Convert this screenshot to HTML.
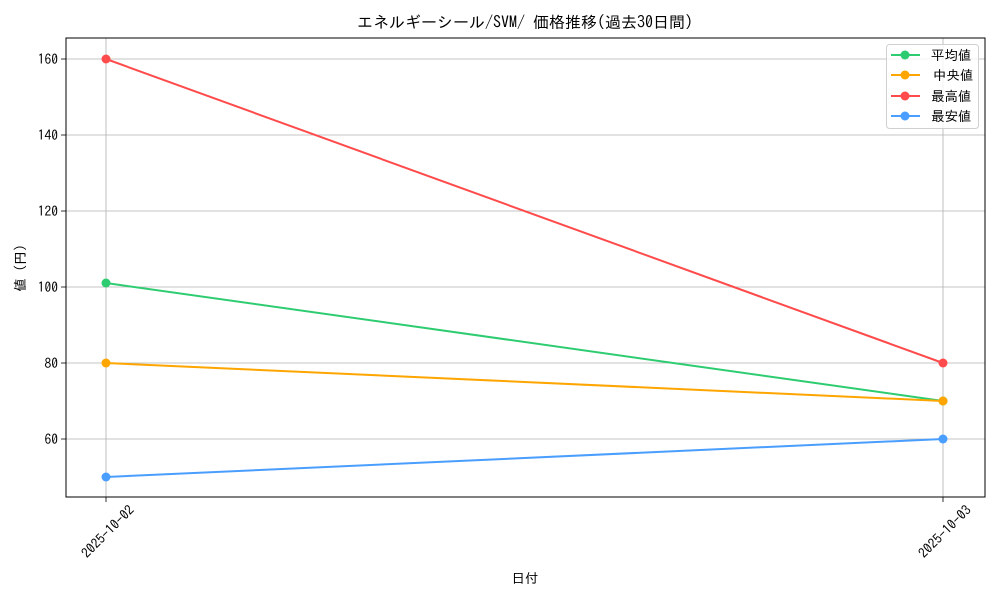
<!DOCTYPE html>
<html><head><meta charset="utf-8"><style>body{margin:0;background:#fff}svg{display:block}text{font-family:"IPAGothic","Liberation Sans","Noto Sans CJK JP",sans-serif;fill:#000}</style></head><body>
<svg width="1000" height="600" viewBox="0 0 1000 600">
<rect width="1000" height="600" fill="#fff"/>
<g stroke="#b0b0b0" stroke-width="0.8">
<line x1="106" y1="38" x2="106" y2="497"/><line x1="943" y1="38" x2="943" y2="497"/>
<line x1="66" y1="439" x2="985" y2="439"/><line x1="66" y1="363" x2="985" y2="363"/><line x1="66" y1="287" x2="985" y2="287"/><line x1="66" y1="211" x2="985" y2="211"/><line x1="66" y1="135" x2="985" y2="135"/><line x1="66" y1="59" x2="985" y2="59"/>
</g>
<g stroke="#000" stroke-width="0.8">
<line x1="61" y1="439" x2="66" y2="439"/><line x1="61" y1="363" x2="66" y2="363"/><line x1="61" y1="287" x2="66" y2="287"/><line x1="61" y1="211" x2="66" y2="211"/><line x1="61" y1="135" x2="66" y2="135"/><line x1="61" y1="59" x2="66" y2="59"/>
<line x1="106" y1="497" x2="106" y2="502"/><line x1="943" y1="497" x2="943" y2="502"/>
</g>
<g font-size="13.5" text-anchor="end">
<text x="58" y="444">60</text><text x="58" y="368">80</text><text x="58" y="292">100</text><text x="58" y="216">120</text><text x="58" y="140">140</text><text x="58" y="64">160</text>
</g>
<text font-size="13.5" text-anchor="end" transform="translate(135,511) rotate(-45)">2025-10-02</text>
<text font-size="13.5" text-anchor="end" transform="translate(972,511) rotate(-45)">2025-10-03</text>
<text x="525" y="583" font-size="13.5" text-anchor="middle">日付</text>
<text font-size="13.5" text-anchor="middle" transform="translate(25,268) rotate(-90)">値 (円)</text>
<text x="525" y="28" font-size="16" text-anchor="middle">エネルギーシール/SVM/ 価格推移(過去30日間)</text>
<g stroke-width="2" fill="none">
<line x1="106" y1="59" x2="943" y2="363" stroke="#ff4b4b"/>
<line x1="106" y1="283" x2="943" y2="401" stroke="#2ecc71"/>
<line x1="106" y1="363" x2="943" y2="401" stroke="#ffa500"/>
<line x1="106" y1="477" x2="943" y2="439" stroke="#4a9eff"/>
</g>
<g>
<circle cx="106" cy="59" r="4.5" fill="#ff4b4b"/><circle cx="943" cy="363" r="4.5" fill="#ff4b4b"/>
<circle cx="106" cy="283" r="4.5" fill="#2ecc71"/><circle cx="943" cy="401" r="4.5" fill="#2ecc71"/>
<circle cx="106" cy="363" r="4.5" fill="#ffa500"/><circle cx="943" cy="401" r="4.5" fill="#ffa500"/>
<circle cx="106" cy="477" r="4.5" fill="#4a9eff"/><circle cx="943" cy="439" r="4.5" fill="#4a9eff"/>
</g>
<rect x="66" y="38" width="919" height="459" fill="none" stroke="#000" stroke-width="1"/>
<rect x="886.5" y="44.5" width="92" height="84" rx="3" fill="#fff" fill-opacity="0.8" stroke="#d0d0d0"/>
<g stroke-width="2">
<line x1="891" y1="55" x2="920" y2="55" stroke="#2ecc71"/><circle cx="905" cy="55" r="4.5" fill="#2ecc71"/>
<line x1="891" y1="75" x2="920" y2="75" stroke="#ffa500"/><circle cx="905" cy="75" r="4.5" fill="#ffa500"/>
<line x1="891" y1="96" x2="920" y2="96" stroke="#ff4b4b"/><circle cx="905" cy="96" r="4.5" fill="#ff4b4b"/>
<line x1="891" y1="116" x2="920" y2="116" stroke="#4a9eff"/><circle cx="905" cy="116" r="4.5" fill="#4a9eff"/>
</g>
<g font-size="13.5">
<text x="931" y="60">平均値</text><text x="933" y="80">中央値</text><text x="931" y="101">最高値</text><text x="931" y="121">最安値</text>
</g>
</svg>
</body></html>
